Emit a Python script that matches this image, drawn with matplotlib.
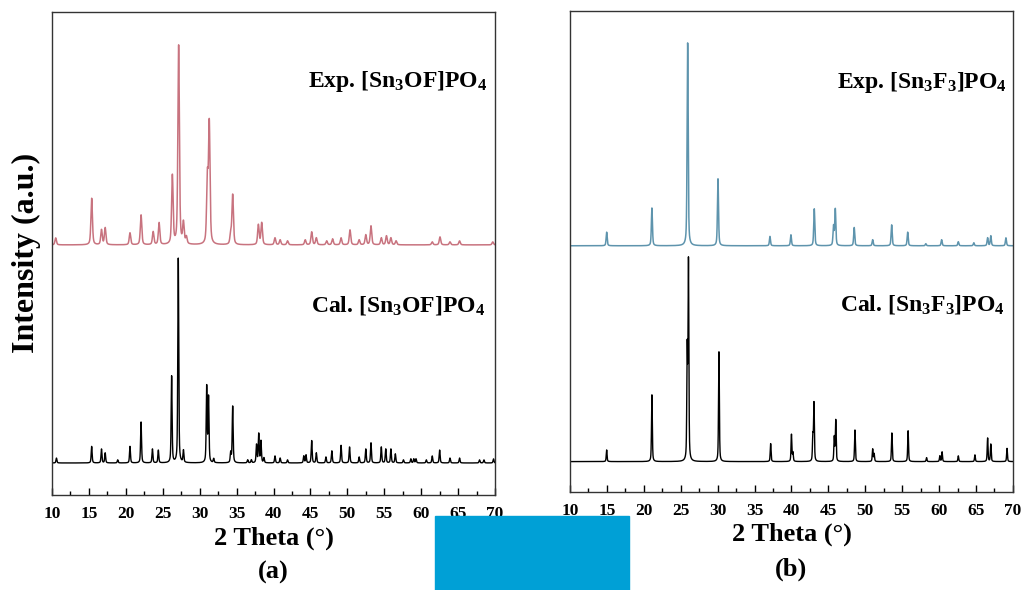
import numpy as np
import matplotlib
matplotlib.use('Agg')
import matplotlib.pyplot as plt
from matplotlib.patches import Rectangle
from matplotlib import rcParams

rcParams['font.family'] = 'serif'
rcParams['font.serif'] = ['Liberation Serif', 'DejaVu Serif']
rcParams['font.weight'] = 'bold'
rcParams['mathtext.fontset'] = 'custom'
rcParams['mathtext.rm'] = 'Liberation Serif:bold'
rcParams['mathtext.bf'] = 'Liberation Serif:bold'
rcParams['mathtext.default'] = 'bf'

# peak lists: position (2theta), relative intensity (%)
cal_a_pos = [10.6, 15.37, 16.7, 17.2, 18.9, 20.56, 22.06, 23.6, 24.4, 26.2, 27.1, 27.8,
             30.95, 31.2, 31.9, 34.2, 34.47, 36.5, 37.0, 37.7, 38.0, 38.3, 38.7, 40.2,
             40.9, 41.9, 44.1, 44.4, 45.17, 45.8, 47.1, 47.9, 49.15, 50.3, 51.6, 52.5,
             53.2, 54.6, 55.2, 55.9, 56.5, 57.6, 58.6, 59.0, 59.3, 60.7, 61.5, 62.5,
             63.9, 65.2, 67.9, 68.5, 69.8]
cal_a_int = [2.4, 8.1, 6.8, 4.9, 1.5, 8.1, 20, 6.8, 6.2, 42.3, 100, 5.9,
             37, 31.7, 2, 4.9, 27.7, 1.5, 1.5, 8.8, 14.1, 10.6, 2.4, 3.4,
             2.4, 1.5, 3.4, 3.9, 10.9, 4.9, 2.9, 5.9, 8.6, 7.8, 2.9, 6.8,
             9.8, 7.8, 6.8, 6.8, 4.4, 1.5, 2, 2, 2, 1.5, 3.4, 6.3,
             2.4, 2.4, 1.5, 1.5, 2]

exp_a_pos = [10.5, 15.37, 16.7, 17.2, 20.56, 22.06, 23.7, 24.5, 26.3, 27.15, 27.8, 28.2,
             31.04, 31.3, 34.2, 34.47, 37.95, 38.4, 40.2, 40.9, 41.9, 44.3, 45.17, 45.8,
             47.2, 48.0, 49.15, 50.36, 51.6, 52.5, 53.2, 54.6, 55.3, 55.9, 56.6, 61.5,
             62.55, 63.9, 65.2, 69.7]
exp_a_int = [3.5, 23.4, 7.5, 8.5, 6, 15, 6.5, 11, 34.5, 100, 10.5, 3.5,
             32, 60, 5, 25, 10, 11, 3.5, 2.5, 2, 2.5, 6.5, 3.5,
             2, 3, 3.5, 7.5, 2.5, 5, 9.5, 3.5, 4.5, 3.5, 2, 1.5,
             4, 1.5, 2, 1.5]

cal_b_pos = [14.97, 21.1, 25.88, 26.05, 30.18, 37.18, 40.0, 40.2, 42.9, 43.05, 45.8, 46.0,
             48.6, 51.0, 51.2, 53.6, 55.8, 58.3, 60.1, 60.4, 62.6, 64.85, 66.57, 67.0, 69.2]
cal_b_int = [5.9, 33.8, 55, 100, 55.6, 9.1, 13.7, 4.4, 12.2, 29.3, 12.2, 20.8,
             16, 6.3, 3.9, 14.5, 15.6, 2, 2.9, 4.9, 2.9, 3.4, 11.9, 8.8, 6.7]

exp_b_pos = [14.97, 21.1, 25.94, 30.05, 37.09, 39.93, 43.09, 45.7, 45.94, 48.5, 51.0, 53.57,
             55.74, 58.2, 60.34, 62.6, 64.7, 66.57, 67.0, 69.05]
exp_b_int = [6.7, 18.6, 100, 33, 4.6, 5.4, 18.2, 9.4, 17.9, 9, 3, 10.3,
             6.7, 1, 3, 2, 1.5, 3.9, 4.9, 3.9]

x = np.arange(10, 70.001, 0.005)


def pattern(pos, inten, fwhm):
    y = np.zeros_like(x)
    for p, h in zip(pos, inten):
        d = (x - p) / (fwhm / 2)
        y += h * (0.5 / (1 + d**2) + 0.5 * np.exp(-np.log(2) * d**2))
    return y / y.max()


fig = plt.figure(figsize=(10.24, 5.9), dpi=100)
ax1 = fig.add_axes([0.0508, 0.161, 0.4326, 0.819])
ax2 = fig.add_axes([0.5566, 0.1668, 0.4326, 0.8147])

red = '#C8737F'
blue = '#5E94AD'

ax1.plot(x, 0.0663 + 0.424 * pattern(cal_a_pos, cal_a_int, 0.15), color='black', lw=1.0)
ax1.plot(x, 0.5176 + 0.414 * pattern(exp_a_pos, exp_a_int, 0.24), color=red, lw=1.1)
ax2.plot(x, 0.0624 + 0.426 * pattern(cal_b_pos, cal_b_int, 0.13), color='black', lw=1.0)
ax2.plot(x, 0.5114 + 0.422 * pattern(exp_b_pos, exp_b_int, 0.17), color=blue, lw=1.1)

ax1.text(0.982, 0.855, 'Exp. [Sn$_3$OF]PO$_4$', transform=ax1.transAxes,
         ha='right', va='center', fontsize=17, fontweight='bold')
ax1.text(0.977, 0.393, 'Cal. [Sn$_3$OF]PO$_4$', transform=ax1.transAxes,
         ha='right', va='center', fontsize=17, fontweight='bold')
ax2.text(0.986, 0.852, 'Exp. [Sn$_3$F$_3$]PO$_4$', transform=ax2.transAxes,
         ha='right', va='center', fontsize=17, fontweight='bold')
ax2.text(0.982, 0.389, 'Cal. [Sn$_3$F$_3$]PO$_4$', transform=ax2.transAxes,
         ha='right', va='center', fontsize=17, fontweight='bold')

for ax, lab in [(ax1, '(a)'), (ax2, '(b)')]:
    ax.set_xlim(10, 70)
    ax.set_ylim(0, 1)
    ax.set_xticks(np.arange(10, 71, 5))
    ax.set_xticks(np.arange(12.5, 70, 5), minor=True)
    ax.set_yticks([])
    ax.tick_params(axis='x', which='major', direction='in', length=5, width=1,
                   labelsize=12.5, pad=8)
    ax.tick_params(axis='x', which='minor', direction='in', length=3, width=1)
    for lbl in ax.get_xticklabels():
        lbl.set_fontweight('bold')
    for s in ax.spines.values():
        s.set_linewidth(1.0)
        s.set_color('#333333')
    ax.set_xlabel('2 Theta (°)', fontsize=19, fontweight='bold', labelpad=3)
    ax.text(0.5, -0.161, lab, transform=ax.transAxes, ha='center', va='center',
            fontsize=19, fontweight='bold')

ax1.set_ylabel('Intensity (a.u.)', fontsize=23, fontweight='bold', labelpad=8)

# solid blue block at the bottom centre of the picture
fig.patches.append(Rectangle((435 / 1024, 0), 194 / 1024, 74 / 590,
                             transform=fig.transFigure, color='#00A0D6', zorder=10))

plt.savefig('out.png', dpi=100)
